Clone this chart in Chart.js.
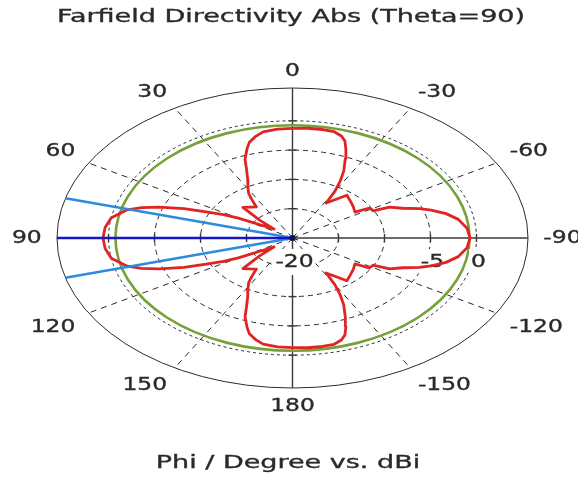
<!DOCTYPE html>
<html>
<head>
<meta charset="utf-8">
<script src="https://cdn.jsdelivr.net/npm/chart.js@4/dist/chart.umd.min.js"></script>
<style>
  html, body { margin: 0; padding: 0; background: #ffffff; }
  canvas { display: block; }
</style>
</head>
<body>
<canvas id="farfield" width="578" height="477"></canvas>
<script>
// Farfield cut at Theta = 90: Phi in degrees, directivity in dBi
const phiDeg = [
  -180, -175, -170, -166, -163, -161, -159, -157, -154, -152, -150, -148.5,
  -141, -135, -129, -123, -121.5, -118, -116.5, -113, -110, -107.5, -104, -100,
  -95, -90, -85, -80, -76, -72.5, -70, -67, -63.5, -62, -58.5, -57,
  -51, -45, -39, -31.5, -30, -28, -26, -23, -21, -19, -17, -14,
  -10, -5, 0, 5, 10, 13, 16, 18, 21, 23, 26, 29,
  32, 34, 36.5, 41, 46, 49.5, 53, 57, 60, 62, 64.5, 67,
  70, 72.5, 75, 80, 85, 90, 95, 100, 105, 107.5, 110, 113,
  115.5, 118, 120, 123, 127, 130.5, 134, 139, 143.5, 146, 148, 151,
  154, 157, 159, 162, 164, 167, 170, 175, 180
];
const directivityDbi = [
  -1.3, -1.2, -1.2, -1.3, -1.8, -2.5, -3.8, -5.3, -7.3, -8.9, -10.8, -13.0,
  -10.6, -11.1, -11.5, -11.9, -10.2, -10.1, -8.2, -7.0, -5.3, -4.2, -2.8, -1.7,
  -0.95, -0.7, -0.95, -1.7, -2.8, -4.2, -5.3, -7.0, -8.2, -10.1, -10.2, -11.9,
  -11.5, -11.1, -10.6, -13.0, -10.8, -8.9, -7.3, -5.3, -3.8, -2.5, -1.8, -1.3,
  -1.2, -1.2, -1.3, -1.35, -1.6, -2.2, -3.0, -4.0, -5.6, -7.2, -8.9, -10.0,
  -11.0, -12.1, -13.4, -13.0, -12.5, -15.3, -17.5, -16.0, -13.2, -11.5, -9.6, -7.2,
  -4.6, -2.8, -1.4, 0.0, 0.45, 0.6, 0.45, 0.0, -1.4, -2.8, -4.6, -7.2,
  -9.6, -11.5, -13.2, -16.0, -17.5, -15.3, -12.5, -13.0, -13.4, -12.1, -11.0, -10.0,
  -8.9, -7.2, -5.6, -4.0, -3.0, -2.2, -1.6, -1.35, -1.3
];

// Radial axis (dBi): centre and outer ring
const radialMinDb = -20;
const radialMaxDb = 5.6;
const gridCircleDb = [-15, -10, -5];
const zeroCircleDb = 0;
const radialTickDb = [-15, -10, -5, 0];
const radialTickLabels = ['-20', '-5', '0'];
const radialTickLabelDb = [-20, -5, 0];

// Angular axis labels (Phi / degree)
const angleTickDeg = [0, 30, 60, 90, 120, 150, 180, -150, -120, -90, -60, -30];
const angleTickLabels = ['0', '30', '60', '90', '120', '150', '180', '-150', '-120', '-90', '-60', '-30'];
const spokeDeg = [30, 60, 120, 150, -30, -60, -120, -150];

// Main lobe markers
const sideLobeLevelDb = -0.75;
const mainLobeDirDeg = 90;
const angularWidth3dBDeg = 30.8;

const titleText = 'Farfield Directivity Abs (Theta=90)';
const axisText = 'Phi / Degree vs. dBi';

const span = radialMaxDb - radialMinDb;
const rad = d => d * Math.PI / 180;
// polar (phi, dBi) -> cartesian in radial units, 0 deg up, positive phi to the left
function polar(phi, db) {
  const u = db - radialMinDb;
  return { x: -u * Math.sin(rad(phi)), y: u * Math.cos(rad(phi)) };
}

const patternPoints = phiDeg.map((p, i) => polar(p, directivityDbi[i]));
const rayPoints = phi => [polar(phi, radialMinDb), polar(phi, radialMaxDb)];

const INK = '#2a2a2a';
const FONT = '"DejaVu Sans", Verdana, sans-serif';
const NUM_SX = 1.3;   // horizontal stretch of numeric labels
const TEXT_SX = 1.5;  // horizontal stretch of title / caption

function stretchedText(ctx, text, x, y, size, sx) {
  ctx.save();
  ctx.font = size + 'px ' + FONT;
  ctx.textAlign = 'center';
  ctx.textBaseline = 'middle';
  ctx.translate(x, y);
  ctx.scale(sx, 1);
  ctx.lineWidth = 0.35;
  ctx.strokeStyle = ctx.fillStyle;
  ctx.fillText(text, 0, 0);
  ctx.strokeText(text, 0, 0);
  ctx.restore();
}

const polarGrid = {
  id: 'polarGrid',
  beforeDatasetsDraw(chart) {
    const ctx = chart.ctx, xs = chart.scales.x, ys = chart.scales.y;
    const cx = xs.getPixelForValue(0), cy = ys.getPixelForValue(0);
    const rx = db => xs.getPixelForValue(db - radialMinDb) - cx;
    const ry = db => cy - ys.getPixelForValue(db - radialMinDb);
    const px = (phi, db) => { const p = polar(phi, db); return [xs.getPixelForValue(p.x), ys.getPixelForValue(p.y)]; };

    ctx.save();
    ctx.strokeStyle = INK;
    ctx.lineWidth = 1;

    // outer ring
    ctx.beginPath();
    ctx.ellipse(cx, cy, rx(radialMaxDb), ry(radialMaxDb), 0, 0, Math.PI * 2);
    ctx.stroke();

    // dashed level rings
    ctx.setLineDash([5, 4]);
    gridCircleDb.forEach(db => {
      ctx.beginPath();
      ctx.ellipse(cx, cy, rx(db), ry(db), 0, 0, Math.PI * 2);
      ctx.stroke();
    });
    ctx.setLineDash([3, 3]);
    ctx.beginPath();
    ctx.ellipse(cx, cy, rx(zeroCircleDb), ry(zeroCircleDb), 0, 0, Math.PI * 2);
    ctx.stroke();

    // dashed spokes
    ctx.setLineDash([6, 5]);
    spokeDeg.forEach(phi => {
      const a = px(phi, radialMinDb), b = px(phi, radialMaxDb);
      ctx.beginPath(); ctx.moveTo(a[0], a[1]); ctx.lineTo(b[0], b[1]); ctx.stroke();
    });
    ctx.setLineDash([]);

    // solid axes with ticks
    ctx.lineWidth = 1.4;
    ctx.strokeStyle = '#3a3a3a';
    [0, 90, 180, -90].forEach(phi => {
      const a = px(phi, radialMinDb), b = px(phi, radialMaxDb);
      ctx.beginPath(); ctx.moveTo(a[0], a[1]); ctx.lineTo(b[0], b[1]); ctx.stroke();
      radialTickDb.forEach(db => {
        const t = px(phi, db);
        ctx.beginPath();
        if (phi === 0 || phi === 180) { ctx.moveTo(t[0] - 4, t[1]); ctx.lineTo(t[0] + 4, t[1]); }
        else { ctx.moveTo(t[0], t[1] - 4); ctx.lineTo(t[0], t[1] + 4); }
        ctx.stroke();
      });
    });

    // side lobe level ring
    ctx.strokeStyle = '#76a03a';
    ctx.lineWidth = 2.6;
    ctx.beginPath();
    ctx.ellipse(cx, cy, rx(sideLobeLevelDb), ry(sideLobeLevelDb), 0, 0, Math.PI * 2);
    ctx.stroke();

    // radial value labels below the -90 axis
    radialTickLabelDb.forEach((db, i) => {
      const t = px(-90, db);
      const x = t[0] + 2, y = t[1] + 24;
      ctx.save();
      ctx.font = '18px ' + FONT;
      const w = ctx.measureText(radialTickLabels[i]).width * NUM_SX;
      ctx.fillStyle = '#ffffff';
      ctx.fillRect(x - w / 2 - 2, y - 13, w + 4, 26);
      ctx.restore();
      ctx.fillStyle = INK;
      stretchedText(ctx, radialTickLabels[i], x, y, 18, NUM_SX);
    });
    ctx.restore();
  },
  afterDraw(chart) {
    const ctx = chart.ctx, xs = chart.scales.x, ys = chart.scales.y;
    ctx.save();
    ctx.fillStyle = INK;
    ctx.font = '18px ' + FONT;
    // angle labels: box corner placed just outside the outer ring
    const labelDb = radialMinDb + span * 1.065;
    angleTickDeg.forEach((phi, i) => {
      const p = polar(phi, labelDb);
      const s = Math.round(Math.sin(rad(phi)) * 1000) / 1000;
      const c = Math.round(Math.cos(rad(phi)) * 1000) / 1000;
      const hw = ctx.measureText(angleTickLabels[i]).width * NUM_SX / 2;
      const x = xs.getPixelForValue(p.x) - Math.sign(s) * hw;
      const y = ys.getPixelForValue(p.y) - Math.sign(c) * (c > 0 ? 7 : 9);
      stretchedText(ctx, angleTickLabels[i], x, y, 18, NUM_SX);
    });
    // centre dot
    ctx.fillStyle = '#101050';
    ctx.beginPath();
    ctx.arc(xs.getPixelForValue(0), ys.getPixelForValue(0), 3, 0, Math.PI * 2);
    ctx.fill();
    // title and axis caption
    ctx.fillStyle = INK;
    stretchedText(ctx, titleText, 291, 17, 18, TEXT_SX);
    stretchedText(ctx, axisText, 288, 463, 18, TEXT_SX);
    ctx.restore();
  }
};

new Chart(document.getElementById('farfield'), {
  type: 'scatter',
  data: {
    datasets: [
      { data: rayPoints(mainLobeDirDeg), borderColor: '#1515c8', borderWidth: 2.5, showLine: true, pointRadius: 0 },
      { data: rayPoints(mainLobeDirDeg - angularWidth3dBDeg / 2), borderColor: '#2b8be0', borderWidth: 2.5, showLine: true, pointRadius: 0 },
      { data: rayPoints(mainLobeDirDeg + angularWidth3dBDeg / 2), borderColor: '#2b8be0', borderWidth: 2.5, showLine: true, pointRadius: 0 },
      { data: patternPoints, borderColor: '#e02424', borderWidth: 2.8, showLine: true, pointRadius: 0 }
    ]
  },
  options: {
    responsive: false,
    animation: false,
    events: [],
    layout: { padding: { left: 57, right: 50, top: 88, bottom: 89 } },
    scales: {
      x: { type: 'linear', min: -span, max: span, display: false },
      y: { type: 'linear', min: -span, max: span, display: false }
    },
    elements: { line: { tension: 0, borderJoinStyle: 'round' }, point: { radius: 0 } },
    plugins: { legend: { display: false }, tooltip: { enabled: false }, title: { display: false } }
  },
  plugins: [polarGrid]
});
</script>
</body>
</html>
